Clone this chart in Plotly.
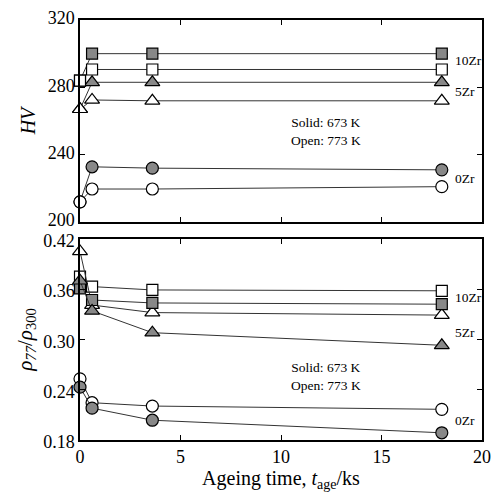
import plotly.graph_objects as go

# Ageing time (ks)
t = [0, 0.6, 3.6, 18]

# Top panel: Vickers hardness HV
hv_10zr_solid = [284, 300, 300, 300]
hv_10zr_open = [284, 290.6, 290.6, 290.6]
hv_5zr_solid = [267, 283, 283, 283]
hv_5zr_open = [267, 272.5, 272, 272]
hv_0zr_solid = [212, 232.8, 232, 231]
hv_0zr_open = [212, 219.6, 219.6, 221]

# Bottom panel: resistivity ratio rho77/rho300
r_10zr_open = [0.375, 0.363, 0.359, 0.358]
r_10zr_solid = [0.361, 0.347, 0.3435, 0.342]
r_5zr_open = [0.405, 0.341, 0.332, 0.329]
r_5zr_solid = [0.370, 0.334, 0.308, 0.293]
r_0zr_open = [0.253, 0.2245, 0.2205, 0.2166]
r_0zr_solid = [0.243, 0.218, 0.2036, 0.1886]

hv_ticks = [200, 240, 280, 320]
r_ticks = [0.18, 0.24, 0.30, 0.36, 0.42]
r_ticklabels = ["0.18", "0.24", "0.30", "0.36", "0.42"]
x_ticks = [0, 5, 10, 15, 20]

GRAY = "#888888"
LINE = "#333333"
FONT = "'Liberation Serif', 'Times New Roman', Times, serif"

fig = go.Figure()


def add(x, y, sym, fill, size, xa, ya):
    fig.add_trace(go.Scatter(
        x=x, y=y, mode="lines+markers", xaxis=xa, yaxis=ya,
        line=dict(color=LINE, width=1),
        marker=dict(symbol=sym, size=size, color=fill,
                    line=dict(color="black", width=1.2)),
        showlegend=False, cliponaxis=False))


# top: solid first, open on top
add(t, hv_10zr_solid, "square", GRAY, 11, "x", "y")
add(t, hv_5zr_solid, "triangle-up", GRAY, 13, "x", "y")
add(t, hv_0zr_solid, "circle", GRAY, 12, "x", "y")
add(t, hv_10zr_open, "square", "white", 11, "x", "y")
add(t, hv_5zr_open, "triangle-up", "white", 13, "x", "y")
add(t, hv_0zr_open, "circle", "white", 12, "x", "y")

# bottom
add(t, r_10zr_open, "square", "white", 11, "x2", "y2")
add(t, r_5zr_open, "triangle-up", "white", 13, "x2", "y2")
add(t, r_0zr_open, "circle", "white", 12, "x2", "y2")
add(t, r_10zr_solid, "square", GRAY, 11, "x2", "y2")
add(t, r_5zr_solid, "triangle-up", GRAY, 13, "x2", "y2")
add(t, r_0zr_solid, "circle", GRAY, 12, "x2", "y2")

axis_common = dict(showline=True, linecolor="black", linewidth=1.5, mirror="ticks",
                   ticks="inside", ticklen=5, tickwidth=1.2, tickcolor="black",
                   showgrid=False, zeroline=False,
                   tickfont=dict(family=FONT, size=18, color="black"))

fig.update_layout(
    width=499, height=492,
    margin=dict(l=80, r=8, t=16, b=52),
    paper_bgcolor="white", plot_bgcolor="white",
    font=dict(family=FONT, color="black"),
    xaxis=dict(domain=[0, 1], range=[0, 20], tickvals=x_ticks, showticklabels=False,
               anchor="y", **axis_common),
    yaxis=dict(domain=[0.519, 1], range=[200, 320], tickvals=hv_ticks, anchor="x",
               ticklabelshift=-2,
               title=dict(text="<i>HV</i>", font=dict(family=FONT, size=20), standoff=7),
               **axis_common),
    xaxis2=dict(domain=[0, 1], range=[0, 20], tickvals=x_ticks, anchor="y2",
                title=dict(text="Ageing time, <i>t</i><sub>age</sub>/ks",
                           font=dict(family=FONT, size=20), standoff=0),
                **axis_common),
    yaxis2=dict(domain=[0, 0.479], range=[0.18, 0.42], tickvals=r_ticks,
                ticktext=r_ticklabels, anchor="x2", ticklabelshift=2,
                title=dict(text="<i>ρ</i><sub><i>77</i></sub>/<i>ρ</i><sub>300</sub>",
                           font=dict(family=FONT, size=21), standoff=5),
                **axis_common),
)

ann_font = dict(family=FONT, size=13.5, color="black")
notes = [
    ("x", "y", 18.55, 296, "10Zr"),
    ("x", "y", 18.55, 277.6, "5Zr"),
    ("x", "y", 18.55, 225.9, "0Zr"),
    ("x2", "y2", 18.55, 0.350, "10Zr"),
    ("x2", "y2", 18.55, 0.308, "5Zr"),
    ("x2", "y2", 18.55, 0.2036, "0Zr"),
]
for xa, ya, xv, yv, txt in notes:
    fig.add_annotation(x=xv, y=yv, xref=xa, yref=ya, text=txt, showarrow=False,
                       xanchor="left", yanchor="middle", font=ann_font)

for xa, ya, yv in [("x", "y", 253.5), ("x2", "y2", 0.2552)]:
    fig.add_annotation(x=12.25, y=yv, xref=xa, yref=ya,
                       text="Solid: 673 K<br>Open: 773 K", showarrow=False,
                       xanchor="center", yanchor="middle", align="center",
                       font=ann_font)

fig.write_html("out.html")
